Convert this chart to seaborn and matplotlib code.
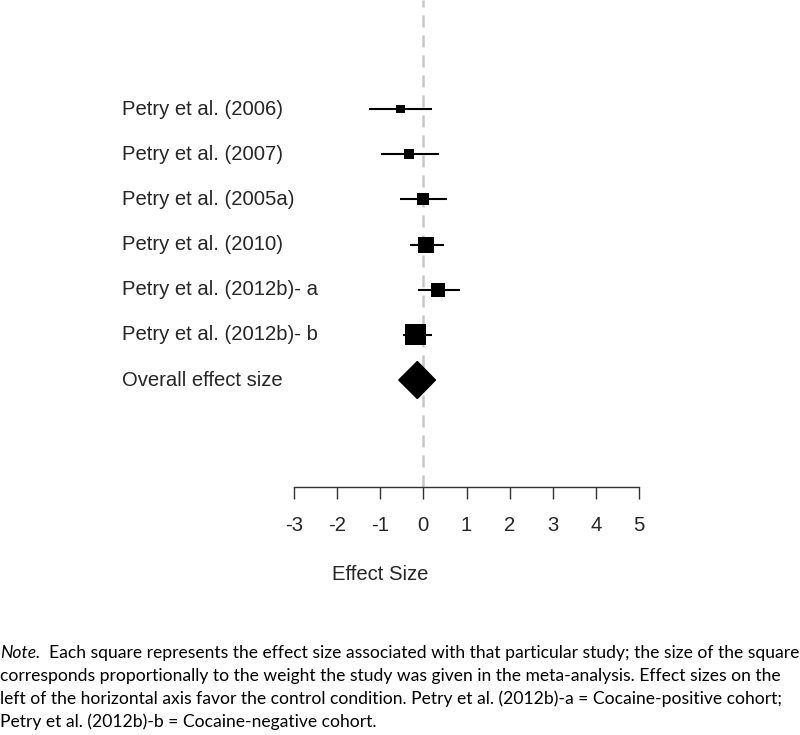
import matplotlib
matplotlib.use("Agg")
import matplotlib.pyplot as plt
import pandas as pd
import seaborn as sns

# study rows (top to bottom)
studies = [
    "Petry et al. (2006)",
    "Petry et al. (2007)",
    "Petry et al. (2005a)",
    "Petry et al. (2010)",
    "Petry et al. (2012b)- a",
    "Petry et al. (2012b)- b",
]
effect = [-0.52, -0.33, -0.02, 0.07, 0.34, -0.18]
ci_low = [-1.25, -0.98, -0.54, -0.30, -0.12, -0.47]
ci_high = [0.20, 0.37, 0.54, 0.47, 0.84, 0.19]
# relative weight, drawn as square side
weight = [9, 10.5, 12, 16, 14, 21]

overall_label = "Overall effect size"
overall_effect = -0.14
overall_low = -0.57
overall_high = 0.28

xticks = [-3, -2, -1, 0, 1, 2, 3, 4, 5]

note_lead = "Note."
note_lines = [
    "  Each square represents the effect size associated with that particular study; the size of the square",
    "corresponds proportionally to the weight the study was given in the meta-analysis. Effect sizes on the",
    "left of the horizontal axis favor the control condition. Petry et al. (2012b)-a = Cocaine-positive cohort;",
    "Petry et al. (2012b)-b = Cocaine-negative cohort.",
]


def main() -> None:
    df = pd.DataFrame(
        {
            "study": studies,
            "effect": effect,
            "low": ci_low,
            "high": ci_high,
            "weight": weight,
        }
    )
    df["row"] = range(len(df))
    # square side in points -> marker area
    df["area"] = (df["weight"] / 1.389) ** 2
    overall_row = len(df)

    sns.set_theme(style="white")
    plt.rcParams["font.family"] = ["Liberation Sans", "DejaVu Sans"]

    fig = plt.figure(figsize=(8, 7.35), dpi=100)
    ax = fig.add_axes([294 / 800, 1 - 487 / 735, 345 / 800, 487 / 735])
    ax.set_xlim(-3, 5)
    ax.set_ylim(8.368, -2.413)

    ax.axvline(0, color="#c8c8c8", lw=1.8, dashes=(4.8, 3.2), zorder=1)

    ax.hlines(df["row"], df["low"], df["high"], color="black", lw=1.5, zorder=2)
    sns.scatterplot(
        data=df,
        x="effect",
        y="row",
        size="area",
        sizes=(df["area"].min(), df["area"].max()),
        marker="s",
        color="black",
        linewidth=0,
        legend=False,
        ax=ax,
        zorder=3,
        clip_on=False,
    )

    h = 0.41
    ax.fill(
        [overall_low, overall_effect, overall_high, overall_effect],
        [overall_row, overall_row - h, overall_row, overall_row + h],
        color="black",
        zorder=3,
        clip_on=False,
    )

    text_color = "#262626"
    for i, label in enumerate(studies + [overall_label]):
        ax.text(-7.0, i, label, ha="left", va="center", fontsize=14.6,
                color=text_color, clip_on=False)

    for side in ["top", "left", "right"]:
        ax.spines[side].set_visible(False)
    ax.spines["bottom"].set_color("#333333")
    ax.spines["bottom"].set_linewidth(1.0)
    ax.set_yticks([])
    ax.set_xticks(xticks)
    ax.set_xticklabels([str(t) for t in xticks])
    ax.tick_params(axis="x", bottom=True, length=8.6, width=1.0, color="#333333",
                   labelsize=14.6, labelcolor=text_color, pad=12)
    ax.set_xlabel("")
    ax.set_ylabel("")
    fig.text(380 / 800, 1 - 575 / 735, "Effect Size", fontsize=14.6, color=text_color,
             ha="center", va="center")

    # note under the chart
    note_font = ["Lato", "DejaVu Sans"]
    note_size = 12.6
    lead = fig.text(0.0, 1 - 653 / 735, note_lead, fontsize=note_size, style="italic",
                    family=note_font, ha="left", va="center", color="black")
    fig.canvas.draw()
    bb = lead.get_window_extent()
    y_centers = [653, 676, 699, 722]
    for k, (line, yc) in enumerate(zip(note_lines, y_centers)):
        x0 = bb.x1 / 800 if k == 0 else 0.0
        fig.text(x0, 1 - yc / 735, line, fontsize=note_size, family=note_font,
                 ha="left", va="center", color="black")

    fig.savefig("out.png", dpi=100)
    plt.close(fig)


if __name__ == "__main__":
    main()
